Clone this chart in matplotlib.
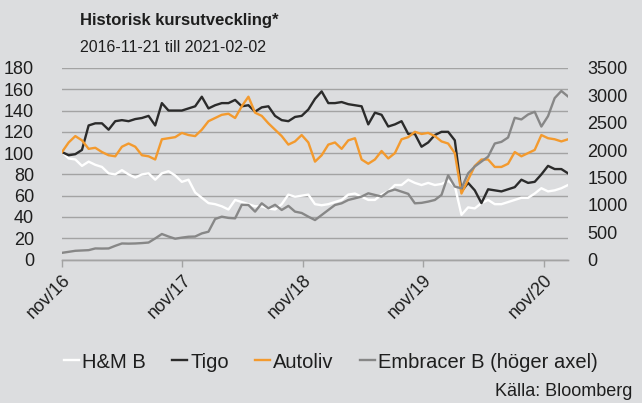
import matplotlib

matplotlib.use("Agg")
import matplotlib.pyplot as plt
from matplotlib.lines import Line2D
import pandas as pd

# sampled roughly every 20 days between first and last date
START = "2016-11-21"
END = "2021-02-02"
N_POINTS = 77

hm = [101, 95, 94, 88, 92, 89, 87, 81, 80, 84, 80, 77, 80, 81, 75, 81, 83, 79, 73, 75,
      63, 58, 53, 52, 50, 47, 56, 54, 52, 50, 50, 48, 47, 52, 61, 59, 60, 61, 52, 51,
      52, 54, 56, 61, 62, 59, 56, 56, 61, 64, 70, 70, 75, 72, 70, 72, 70, 71, 74, 69,
      42, 49, 48, 53, 56, 52, 52, 54, 56, 58, 58, 62, 67, 64, 65, 67, 70]
tigo = [101, 98, 99, 103, 126, 128, 128, 122, 130, 131, 130, 132, 133, 135, 126, 147, 140, 140, 140, 142,
        144, 153, 142, 145, 147, 147, 150, 144, 145, 139, 143, 144, 135, 131, 130, 134, 135, 141, 151, 158,
        147, 147, 148, 146, 145, 144, 127, 138, 136, 125, 127, 130, 118, 118, 106, 110, 117, 120, 120, 112,
        64, 72, 65, 53, 66, 65, 64, 66, 68, 75, 72, 73, 80, 88, 85, 85, 81]
autoliv = [101, 110, 116, 112, 104, 105, 101, 98, 97, 106, 109, 106, 98, 97, 94, 113, 114, 115, 119, 117,
           116, 122, 130, 133, 136, 137, 133, 144, 153, 138, 135, 128, 122, 116, 108, 111, 117, 110, 92, 98,
           108, 110, 104, 112, 114, 94, 90, 94, 102, 95, 100, 113, 115, 120, 118, 119, 116, 111, 109, 100,
           62, 75, 88, 94, 94, 87, 87, 90, 101, 97, 100, 103, 117, 114, 113, 111, 113]
embracer = [122, 140, 159, 165, 171, 202, 200, 202, 250, 293, 290, 293, 300, 310, 385, 466, 420, 380, 400, 416,
            420, 477, 508, 740, 783, 760, 752, 1000, 996, 875, 1027, 935, 1000, 905, 980, 875, 850, 783, 721, 813,
            905, 996, 1027, 1088, 1118, 1150, 1210, 1180, 1150, 1241, 1280, 1240, 1200, 1027, 1035, 1058, 1088, 1180, 1540, 1333,
            1300, 1575, 1700, 1790, 1880, 2120, 2150, 2230, 2590, 2560, 2650, 2700, 2430, 2620, 2950, 3080, 2980]

labels = ["H&M B", "Tigo", "Autoliv", "Embracer B (höger axel)"]
tick_labels = ["nov/16", "nov/17", "nov/18", "nov/19", "nov/20"]
tick_dates = ["2016-11-21", "2017-11-21", "2018-11-21", "2019-11-21", "2020-11-21"]

BG = "#dcdddf"
GRID = "#a3a3a3"
TXT = "#1e1e1e"
COLORS = ["#ffffff", "#2b2b2b", "#f39a2e", "#878787"]

plt.rcParams["font.family"] = "sans-serif"
plt.rcParams["font.sans-serif"] = ["Liberation Sans", "DejaVu Sans"]

dates = pd.date_range(START, END, periods=N_POINTS)

fig = plt.figure(figsize=(6.42, 4.03), dpi=100, facecolor=BG)
ax = fig.add_axes([62 / 642, 1 - 259.5 / 403, 506 / 642, (259.5 - 68) / 403])
ax.set_facecolor(BG)
ax2 = ax.twinx()

ax.plot(dates, hm, color=COLORS[0], lw=1.7)
ax.plot(dates, tigo, color=COLORS[1], lw=1.7)
ax.plot(dates, autoliv, color=COLORS[2], lw=1.7)
ax2.plot(dates, embracer, color=COLORS[3], lw=1.7)

ax.set_ylim(0, 180)
ax.set_yticks(range(0, 181, 20))
ax2.set_ylim(0, 3500)
ax2.set_yticks(range(0, 3501, 500))
ax.set_xlim(pd.Timestamp(START), pd.Timestamp(END))
ax.set_xticks(pd.to_datetime(tick_dates))
ax.set_xticklabels(tick_labels, rotation=45, ha="right", va="top", rotation_mode="anchor")

ax.grid(axis="y", color=GRID, lw=1.0)
ax.set_axisbelow(True)
for a in (ax, ax2):
    for side in ("top", "left", "right"):
        a.spines[side].set_visible(False)
    a.spines["bottom"].set_color(GRID)
    a.spines["bottom"].set_linewidth(1.0)

ax.tick_params(axis="y", length=0, pad=20, labelsize=13, labelcolor=TXT)
ax2.tick_params(axis="y", length=0, pad=14, labelsize=13, labelcolor=TXT)
ax.tick_params(axis="x", length=5, color=GRID, width=1.0, pad=4, labelsize=13, labelcolor=TXT)

fig.text(80 / 642, 1 - 20 / 403, "Historisk kursutveckling*", fontsize=12, fontweight="bold",
         color=TXT, va="center", ha="left")
fig.text(80 / 642, 1 - 47 / 403, "2016-11-21 till 2021-02-02", fontsize=11.5, color=TXT,
         va="center", ha="left")

handles = [Line2D([], [], color=c, lw=1.7) for c in COLORS]
fig.legend(handles, labels, loc="center", bbox_to_anchor=(331 / 642, 1 - 362 / 403), ncol=4,
           frameon=False, fontsize=14.5, handlelength=0.75, handletextpad=0.15, columnspacing=1.3,
           labelcolor=TXT)
fig.text(632 / 642, 1 - 391 / 403, "Källa: Bloomberg", fontsize=13, color=TXT,
         ha="right", va="center")

fig.savefig("out.png", dpi=100, facecolor=BG)
